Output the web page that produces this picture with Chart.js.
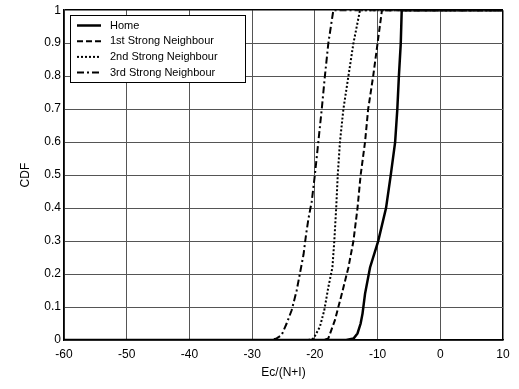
<!DOCTYPE html>
<html>
<head>
<meta charset="utf-8">
<script src="https://cdn.jsdelivr.net/npm/chart.js@4"></script>
<style>
  html, body { margin: 0; padding: 0; background: #fff; }
  #wrap { width: 519px; height: 389px; }
</style>
</head>
<body>
<div id="wrap"><canvas id="cdfChart" width="519" height="389"></canvas></div>
<script>
// series names
const seriesNames = ["Home", "1st Strong Neighbour", "2nd Strong Neighbour", "3rd Strong Neighbour"];

// Ec/(N+I) values (x) and CDF values (y)
const homeX = [-60, -15, -13.8, -13.2, -12.7, -12.4, -12.0, -11.2, -9.9, -8.65, -7.9, -7.2, -6.85, -6.6, -6.3, -6.15, 10];
const homeY = [0, 0, 0.005, 0.02, 0.05, 0.08, 0.14, 0.22, 0.30, 0.40, 0.50, 0.60, 0.70, 0.80, 0.90, 1.0, 1.0];

const firstX = [-60, -18.5, -17.85, -16.8, -15.7, -14.65, -13.85, -13.2, -12.7, -12.0, -11.5, -10.7, -10.0, -9.3, 10];
const firstY = [0, 0, 0.005, 0.06, 0.14, 0.22, 0.30, 0.40, 0.50, 0.60, 0.70, 0.80, 0.90, 1.0, 1.0];

const secondX = [-60, -21, -20.2, -19.2, -18.5, -17.85, -17.2, -16.9, -16.6, -16.35, -16.0, -15.45, -14.65, -13.85, -12.8, 10];
const secondY = [0, 0, 0.005, 0.04, 0.09, 0.16, 0.22, 0.30, 0.40, 0.50, 0.60, 0.70, 0.80, 0.90, 1.0, 1.0];

const thirdX = [-60, -27, -26.1, -25.3, -24.5, -23.7, -22.9, -22.4, -21.8, -21.4, -21.0, -20.5, -20.0, -19.45, -18.9, -18.4, -17.85, -17.05, 10];
const thirdY = [0, 0, 0.005, 0.015, 0.05, 0.09, 0.15, 0.20, 0.26, 0.32, 0.37, 0.42, 0.50, 0.60, 0.70, 0.80, 0.90, 1.0, 1.0];

// axis ranges / ticks
const xMin = -60, xMax = 10, xStep = 10;
const yMin = 0, yMax = 1, yStep = 0.1;

function toPoints(xs, ys) {
  return xs.map((x, i) => ({ x: x, y: ys[i] }));
}

const styles = [
  { width: 2.5, dash: [] },
  { width: 2, dash: [6, 3] },
  { width: 2, dash: [2, 2] },
  { width: 2, dash: [7, 3, 2, 3] }
];
const allX = [homeX, firstX, secondX, thirdX];
const allY = [homeY, firstY, secondY, thirdY];

const datasets = seriesNames.map((name, i) => ({
  label: name,
  data: toPoints(allX[i], allY[i]),
  showLine: true,
  borderColor: '#000',
  borderWidth: styles[i].width,
  borderDash: styles[i].dash,
  pointRadius: 0,
  fill: false,
  tension: 0
}));

// boxed legend in the upper left, like the original
const boxLegend = {
  id: 'boxLegend',
  afterDraw(chart) {
    const ctx = chart.ctx;
    const left = 70, top = 15, w = 175, h = 67;
    ctx.save();
    ctx.fillStyle = '#fff';
    ctx.fillRect(left, top, w, h);
    ctx.strokeStyle = '#000';
    ctx.lineWidth = 1;
    ctx.setLineDash([]);
    ctx.strokeRect(left + 0.5, top + 0.5, w, h);
    ctx.font = '11px "Liberation Sans", Arial, sans-serif';
    ctx.textBaseline = 'middle';
    ctx.fillStyle = '#000';
    chart.data.datasets.forEach((ds, i) => {
      const y = top + 10.5 + i * 15.7;
      ctx.beginPath();
      ctx.lineWidth = ds.borderWidth;
      ctx.setLineDash(ds.borderDash);
      ctx.moveTo(77, y);
      ctx.lineTo(101, y);
      ctx.stroke();
      ctx.setLineDash([]);
      ctx.fillText(ds.label, 110, y);
    });
    ctx.restore();
  }
};

const tickFont = { family: '"Liberation Sans", Arial, sans-serif', size: 12 };

new Chart(document.getElementById('cdfChart').getContext('2d'), {
  type: 'scatter',
  data: { datasets: datasets },
  options: {
    responsive: false,
    animation: false,
    layout: { padding: { left: 0, right: 16, top: 9, bottom: 0 } },
    plugins: {
      legend: { display: false },
      tooltip: { enabled: false }
    },
    scales: {
      x: {
        type: 'linear',
        min: xMin,
        max: xMax,
        ticks: { stepSize: xStep, color: '#000', font: tickFont, padding: 7, maxRotation: 0 },
        grid: {
          drawTicks: false,
          color: c => (c.tick && c.tick.value === xMax) ? '#000' : '#555',
          lineWidth: c => (c.tick && c.tick.value === xMax) ? 1.5 : 1
        },
        border: { color: '#000', width: 1.5 },
        title: { display: true, text: 'Ec/(N+I)', color: '#000', font: tickFont, padding: { top: 0, bottom: 9 } },
        afterFit: s => { s.height = 49; }
      },
      y: {
        type: 'linear',
        min: yMin,
        max: yMax,
        ticks: {
          stepSize: yStep, color: '#000', font: tickFont, padding: 3,
          callback: v => String(Math.round(v * 10) / 10)
        },
        grid: {
          drawTicks: false,
          color: c => (c.tick && c.tick.value === yMax) ? '#000' : '#555',
          lineWidth: c => (c.tick && c.tick.value === yMax) ? 1.5 : 1
        },
        border: { color: '#000', width: 1.5 },
        title: { display: true, text: 'CDF', color: '#000', font: tickFont, padding: { top: 18, bottom: 0 } },
        afterFit: s => { s.width = 64; }
      }
    }
  },
  plugins: [boxLegend]
});
</script>
</body>
</html>
